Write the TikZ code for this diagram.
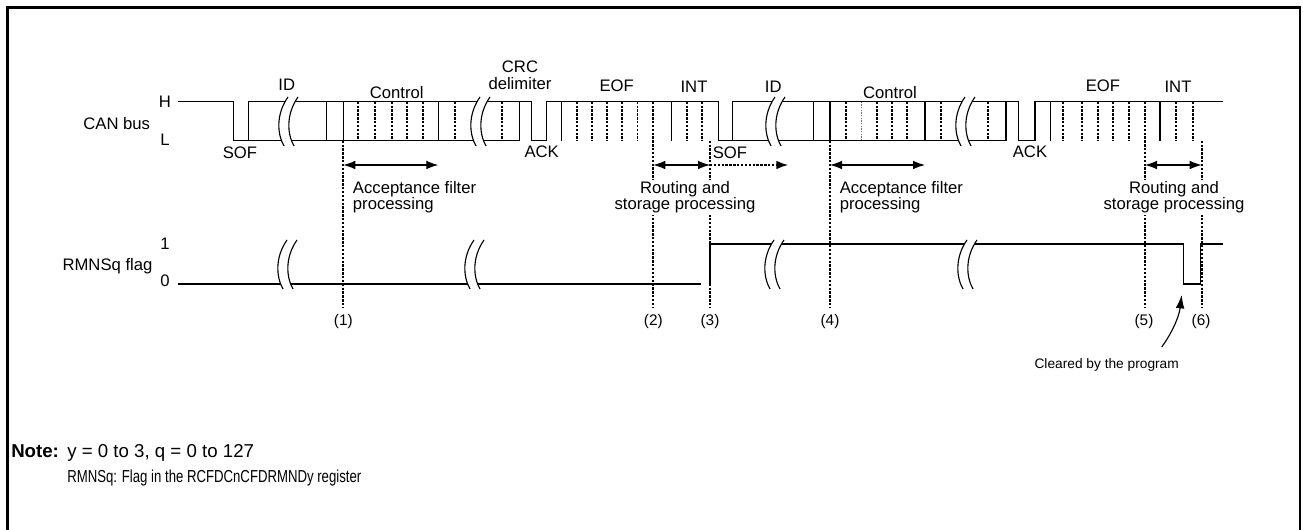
\documentclass[tikz,border=0pt]{standalone}
\usepackage{fontspec}
\setmainfont{Liberation Sans}
\newfontfamily\notenarrow{Liberation Sans}[FakeStretch=0.76]
\usetikzlibrary{arrows.meta}
\newcommand{\wbreak}[3]{% #1 = x of left curve, #2 = top, #3 = bottom
  \pgfmathsetmacro{\wbh}{#3-#2}
  \fill[white] ({#1+5},#2) .. controls ({#1-7},{#2+0.35*\wbh}) and ({#1-6},{#2+0.75*\wbh}) .. ({#1+1},#3)
     -- ({#1+11},#3) .. controls ({#1+4},{#2+0.75*\wbh}) and ({#1+3},{#2+0.35*\wbh}) .. ({#1+15},#2) -- cycle;
  \draw[sig] ({#1+5},#2) .. controls ({#1-7},{#2+0.35*\wbh}) and ({#1-6},{#2+0.75*\wbh}) .. ({#1+1},#3);
  \draw[sig] ({#1+15},#2) .. controls ({#1+3},{#2+0.35*\wbh}) and ({#1+4},{#2+0.75*\wbh}) .. ({#1+11},#3);
}
\begin{document}
\begin{tikzpicture}[x=0.75pt,y=-0.75pt,
  sig/.style={line width=0.85pt},
  dotv/.style={line width=1.3pt, dash pattern=on 1.8pt off 1.1pt},
  lightv/.style={line width=0.7pt, dash pattern=on 1pt off 1pt, black!55},
  lbl/.style={font=\fontsize{12.5}{15}\selectfont, inner sep=0pt, anchor=base},
  numl/.style={lbl, font=\fontsize{11.5}{14}\selectfont},
  bgl/.style={lbl, fill=white, inner sep=1pt},
  notef/.style={font=\fontsize{14}{17}\selectfont, inner sep=0pt, anchor=base west},
  dbl/.style={line width=0.85pt, {Latex[length=9pt,width=6.5pt]}-{Latex[length=9pt,width=6.5pt]}}]
\useasboundingbox (0,0) rectangle (1303,530);
% frame border
\draw[line width=1.6pt] (7.5,545) -- (7.5,7.5) -- (1300,7.5) -- (1300,545);

% ---------- CAN bus ----------
\draw[sig] (178.3,101.7) -- (233.3,101.7) -- (233.3,140.7) -- (519.3,140.7);
\draw[sig] (248.3,140.7) -- (248.3,101.7) -- (531.7,101.7) -- (531.7,140.7) -- (546.7,140.7)
  -- (546.7,101.7) -- (718.3,101.7) -- (718.3,140.7) -- (1006,140.7);
\draw[sig] (732.7,140.7) -- (732.7,101.7) -- (1018.3,101.7) -- (1018.3,140.7) -- (1035,140.7)
  -- (1035,101.7) -- (1223.3,101.7);
\foreach \x in {326.7,343.3,438.3,519.3,561.7,671.7,813.3,830,925,1006,1050.7,1160}
  \draw[sig] (\x,101.7) -- (\x,140.7);
\foreach \x in {358.3,375,391.7,406.7,422.7,455,501.7,576.7,591.7,606.7,621.7,637.5,686.7,701.7,
  846,876.7,891.7,907.3,940.7,988.3,1063.3,1081.7,1098.3,1113.3,1129.3,1176,1192.7}
  \draw[dotv] (\x,101.7) -- (\x,140.7);
\draw[lightv] (861.7,101.7) -- (861.7,140.7);
\wbreak{283}{97}{146}
\wbreak{475}{97}{146}
\wbreak{770}{97}{146}
\wbreak{960}{97}{146}

% ---------- RMNSq flag ----------
\draw[sig] (178.3,284) -- (700.7,284);
\draw[sig] (710,284) -- (710,244) -- (1183.3,244) -- (1183.3,284) -- (1200.7,284) -- (1200.7,244) -- (1223.3,244);
\wbreak{282}{240}{289}
\wbreak{469}{240}{289}
\wbreak{769}{240}{289}
\wbreak{962}{240}{289}

% ---------- timing marks ----------
\coordinate (t1) at (343.3,140.7);  \coordinate (b1) at (343.3,308);
\coordinate (t2) at (653.3,101.7);  \coordinate (b2) at (653.3,308);
\coordinate (t3) at (710,140.7);    \coordinate (b3) at (710,308);
\coordinate (t4) at (830,140.7);    \coordinate (b4) at (830,308);
\coordinate (t5) at (1145,101.7);   \coordinate (b5) at (1145,308);
\coordinate (t6) at (1201.7,140.7); \coordinate (b6) at (1201.7,308);
\foreach \i in {1,...,6} \draw[dotv] (t\i) -- (b\i);

% arrows
\coordinate (a1) at (343.3,165);  \coordinate (a1e) at (438.3,165);
\coordinate (a2) at (653.3,165);  \coordinate (a2e) at (710,165);
\coordinate (a3e) at (788.3,165);
\coordinate (a4) at (830,165);    \coordinate (a4e) at (925,165);
\coordinate (a5) at (1145,165);   \coordinate (a5e) at (1201.7,165);
\draw[dbl] (a1) -- (a1e);
\draw[dbl] (a2) -- (a2e);
\draw[dotv, -{Latex[length=9pt,width=6.5pt]}] (a2e) -- (a3e);
\draw[dbl] (a4) -- (a4e);
\draw[dbl] (a5) -- (a5e);

% ---------- labels ----------
\node[lbl] (canbus) at (116.7,129.3) {CAN bus};
\node[lbl] (hl) at (165,107.3) {H};
\node[lbl] (ll) at (165,146) {L};
\node[lbl] (flag) at (107.5,270.7) {RMNSq flag};
\node[lbl] (one) at (165,250) {1};
\node[lbl] (zero) at (165,286.7) {0};

\node[lbl] (id1) at (286.7,90.7) {ID};
\node[lbl] (id2) at (773.3,92.5) {ID};
\node[lbl] (ctl1) at (396.7,98.3) {Control};
\node[lbl] (ctl2) at (890,98.3) {Control};
\node[lbl] (crc) at (520,73) {CRC};
\node[lbl] (delim) at (520,90) {delimiter};
\node[lbl] (eof1) at (616.7,91.7) {EOF};
\node[lbl] (eof2) at (1103,91.7) {EOF};
\node[lbl] (int1) at (694,92.7) {INT};
\node[lbl] (int2) at (1178,92.7) {INT};
\node[lbl] (sof1) at (240,158.3) {SOF};
\node[lbl] (sof2) at (730,158.3) {SOF};
\node[lbl] (ack1) at (541.7,157.3) {ACK};
\node[lbl] (ack2) at (1030,157.3) {ACK};

\node[lbl, anchor=base west] (acc1a) at (352.7,193.3) {Acceptance filter};
\node[lbl, anchor=base west] (acc1b) at (352.7,210) {processing};
\node[lbl, anchor=base west] (acc2a) at (839.5,193.3) {Acceptance filter};
\node[lbl, anchor=base west] (acc2b) at (839.5,210) {processing};
\node[bgl] (rt1a) at (685,193.3) {Routing and};
\node[bgl] (rt1b) at (685,210) {storage processing};
\node[bgl] (rt2a) at (1174,193.3) {Routing and};
\node[bgl] (rt2b) at (1174,210) {storage processing};

\node[numl] (n1) at (343.3,326) {(1)};
\node[numl] (n2) at (653.3,326) {(2)};
\node[numl] (n3) at (710,326) {(3)};
\node[numl] (n4) at (830,326) {(4)};
\node[numl] (n5) at (1144,326) {(5)};
\node[numl] (n6) at (1201,326) {(6)};

\node[lbl, font=\fontsize{10.3}{12}\selectfont] (clr) at (1106.7,368.3) {Cleared by the program};
\coordinate (clrtip) at (1181.7,295);
\draw[sig, -{Latex[length=10pt,width=6.5pt]}] (1161.7,347) .. controls (1172,333) and (1179,317) .. (clrtip);

\node[notef, font=\fontsize{14}{17}\selectfont\bfseries] (note) at (11,458) {Note:};
\node[notef] (note1) at (67,458) {y = 0 to 3, q = 0 to 127};
\node[notef, font={\notenarrow\fontsize{13}{16}\selectfont}] (note2) at (67,483) {RMNSq: Flag in the RCFDCnCFDRMNDy register};
\end{tikzpicture}
\end{document}
